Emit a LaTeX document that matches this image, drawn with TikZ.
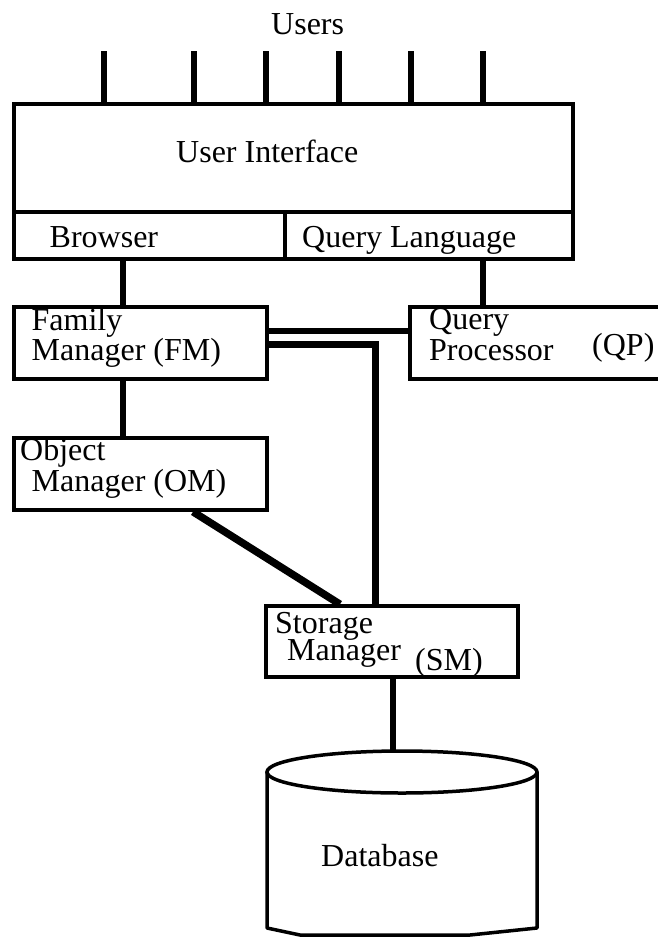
\documentclass[tikz,border=0pt]{standalone}
\usepackage{fontspec}
\setmainfont{Liberation Serif}
\usetikzlibrary{positioning,calc}
\begin{document}
\begin{tikzpicture}[x=1pt,y=-1pt,
    box/.style={draw,rectangle,line width=3.5pt,inner sep=0pt},
    conn/.style={line width=6pt},
    txt/.style={anchor=base west,inner sep=0pt,font=\fontsize{32}{36}\selectfont}]
    \useasboundingbox (0,0) rectangle (658,937);
    \node[box,minimum width=559,minimum height=108] (ui) at (293.5,158) {};
    \node[box,minimum width=271,minimum height=47] (brw) at (149.5,235.5) {};
    \node[box,minimum width=288,minimum height=47] (ql) at (429,235.5) {};
    \node[box,minimum width=253,minimum height=72] (fm) at (140.5,343) {};
    \node[box,minimum width=270,minimum height=72] (qp) at (545,343) {};
    \node[box,minimum width=253,minimum height=72] (om) at (140.5,474) {};
    \node[box,minimum width=252,minimum height=71] (sm) at (392,641.5) {};
    \coordinate (dbtop) at (393,751);
    \draw[line width=3.5pt] (402,772) ellipse [x radius=135, y radius=21];
    \draw[line width=3.5pt,line join=round] (267,772) -- (267,928) -- (300,935) -- (470,935) -- (537,928) -- (537,772);
    \foreach \x in {104,194,266,339,411,483}
        \draw[conn,line width=5.5pt] (ui.north -| \x,0) -- ++(0,-51);
    \draw[conn] (brw.south -| 122.5,0) -- (fm.north -| 122.5,0);
    \draw[conn] (ql.south -| 483,0) -- (qp.north -| 483,0);
    \draw[conn] (fm.east |- 0,331) -- (qp.west |- 0,331);
    \draw[conn,line width=7pt] (fm.east |- 0,344) -| (sm.north -| 375,0);
    \draw[conn] (fm.south -| 122.5,0) -- (om.north -| 122.5,0);
    \draw[conn,line width=7.5pt] (om.south -| 193,0) -- (sm.north -| 340,0);
    \draw[conn] (sm.south -| 393,0) -- (dbtop);
    \node[txt] (users) at (271,34) {Users};
    \node[txt] (uitxt) at (176,162) {User Interface};
    \node[txt] (brwtxt) at (49.5,247) {Browser};
    \node[txt] (qltxt) at (302,247) {Query Language};
    \node[txt] (fmtxt) at (31.5,330.5) {Family};
    \node[txt] (fmtxtb) at (31.5,360.5) {Manager (FM)};
    \node[txt] (qptxt) at (429,329) {Query};
    \node[txt] (qptxtb) at (429,360) {Processor};
    \node[txt] (qptxtc) at (592,355) {(QP)};
    \node[txt] (omtxt) at (20,460.5) {Object};
    \node[txt] (omtxtb) at (31.5,491.5) {Manager (OM)};
    \node[txt] (smtxt) at (275,633) {Storage};
    \node[txt] (smtxtb) at (287,660.5) {Manager};
    \node[txt] (smtxtc) at (415,670) {(SM)};
    \node[txt] (dbtxt) at (321,866.5) {Database};
\end{tikzpicture}
\end{document}
